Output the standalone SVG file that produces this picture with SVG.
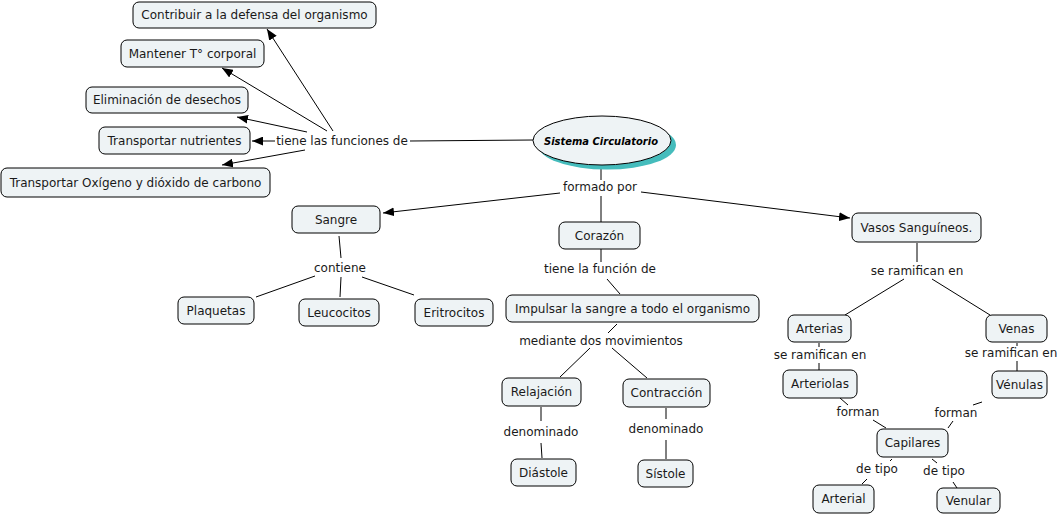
<svg xmlns="http://www.w3.org/2000/svg" width="1061" height="515" viewBox="0 0 1061 515">
<defs>
<marker id="ah" viewBox="0 0 10 8" refX="10" refY="4" markerWidth="11" markerHeight="9" markerUnits="userSpaceOnUse" orient="auto">
<path d="M0,0 L10,4 L0,8 Z" fill="#000"/>
</marker>
</defs>
<style>
.n rect{fill:#eef3f5;stroke:#000;stroke-width:1}
.t{font-family:"DejaVu Sans",Verdana,sans-serif;font-size:12px;fill:#1a1a1a;text-anchor:middle;dominant-baseline:central}
.l{stroke:#000;stroke-width:1;fill:none}
.a{stroke:#000;stroke-width:1;fill:none;marker-end:url(#ah)}
</style>
<rect width="1061" height="515" fill="#fff"/>
<g id="connectors">
<line class="l" x1="410" y1="141" x2="533" y2="140"/>
<line class="a" x1="333" y1="131" x2="267" y2="29"/>
<line class="a" x1="327" y1="131" x2="222" y2="68"/>
<line class="a" x1="307" y1="132" x2="237" y2="117"/>
<line class="a" x1="275" y1="141" x2="252" y2="141"/>
<line class="a" x1="305" y1="150" x2="222" y2="165"/>
<line class="l" x1="601" y1="165" x2="601" y2="180"/>
<line class="l" x1="601" y1="196" x2="601" y2="222"/>
<line class="a" x1="560" y1="193" x2="383" y2="213"/>
<line class="a" x1="641" y1="192" x2="850" y2="218"/>
<line class="l" x1="339" y1="236" x2="341" y2="258"/>
<line class="l" x1="315" y1="276" x2="256" y2="297"/>
<line class="l" x1="341" y1="277" x2="340" y2="297"/>
<line class="l" x1="362" y1="277" x2="414" y2="295"/>
<line class="l" x1="601" y1="249" x2="601" y2="262"/>
<line class="l" x1="607" y1="279" x2="620" y2="294"/>
<line class="l" x1="617" y1="324" x2="608" y2="333"/>
<line class="l" x1="590" y1="348" x2="560" y2="377"/>
<line class="l" x1="612" y1="348" x2="647" y2="378"/>
<line class="l" x1="541" y1="407" x2="541" y2="421"/>
<line class="l" x1="541" y1="443" x2="542" y2="458"/>
<line class="l" x1="666" y1="408" x2="666" y2="419"/>
<line class="l" x1="666" y1="440" x2="666" y2="459"/>
<line class="l" x1="917" y1="243" x2="917" y2="262"/>
<line class="l" x1="904" y1="279" x2="845" y2="315"/>
<line class="l" x1="932" y1="279" x2="990" y2="315"/>
<line class="l" x1="819" y1="343" x2="819" y2="347"/>
<line class="l" x1="819" y1="363" x2="819" y2="370"/>
<line class="l" x1="1017" y1="343" x2="1017" y2="346"/>
<line class="l" x1="1017" y1="361" x2="1017" y2="371"/>
<line class="l" x1="840" y1="398" x2="848" y2="405"/>
<line class="l" x1="873" y1="420" x2="886" y2="428"/>
<line class="l" x1="982" y1="402" x2="973" y2="405"/>
<line class="l" x1="953" y1="421" x2="948" y2="428"/>
<line class="l" x1="892" y1="459" x2="890" y2="461"/>
<line class="l" x1="867" y1="479" x2="862" y2="484"/>
<line class="l" x1="932" y1="459" x2="937" y2="463"/>
<line class="l" x1="953" y1="482" x2="957" y2="488"/>
</g>
<g id="labels">
<text class="t" x="342" y="141">tiene las funciones de</text>
<text class="t" x="600" y="187">formado por</text>
<text class="t" x="340" y="268">contiene</text>
<text class="t" x="600" y="269">tiene la función de</text>
<text class="t" x="601" y="341">mediante dos movimientos</text>
<text class="t" x="541" y="432">denominado</text>
<text class="t" x="666" y="429">denominado</text>
<text class="t" x="917" y="271">se ramifican en</text>
<text class="t" x="820" y="355">se ramifican en</text>
<text class="t" x="1011" y="353">se ramifican en</text>
<text class="t" x="858" y="412">forman</text>
<text class="t" x="956" y="413">forman</text>
<text class="t" x="877" y="469">de tipo</text>
<text class="t" x="944" y="471">de tipo</text>
</g>
<g id="sistema">
<ellipse cx="607" cy="145" rx="69" ry="24.5" fill="#45bcbc"/>
<ellipse cx="602" cy="140.5" rx="69" ry="24.5" fill="#eef3f5" stroke="#000" stroke-width="1"/>
<text x="601" y="141" font-family="'DejaVu Sans',sans-serif" font-size="11" font-weight="bold" font-style="italic" fill="#000" text-anchor="middle" dominant-baseline="central" textLength="114" lengthAdjust="spacingAndGlyphs">Sistema Circulatorio</text>
</g>
<g id="contribuir" class="n"><rect x="133" y="2" width="243" height="26" rx="6"/><text class="t" x="254.5" y="15">Contribuir a la defensa del organismo</text></g>
<g id="mantener" class="n"><rect x="121" y="40" width="143" height="27" rx="6"/><text class="t" x="192.5" y="53.5">Mantener T° corporal</text></g>
<g id="eliminacion" class="n"><rect x="86" y="87" width="162" height="26" rx="6"/><text class="t" x="167" y="100">Eliminación de desechos</text></g>
<g id="nutrientes" class="n"><rect x="99" y="127" width="151" height="27" rx="6"/><text class="t" x="174.5" y="140.5">Transportar nutrientes</text></g>
<g id="oxigeno" class="n"><rect x="1" y="168" width="269" height="29" rx="6"/><text class="t" x="135.5" y="182.5">Transportar Oxígeno y dióxido de carbono</text></g>
<g id="sangre" class="n"><rect x="292" y="206" width="88" height="27" rx="6"/><text class="t" x="336" y="219.5">Sangre</text></g>
<g id="corazon" class="n"><rect x="559" y="222" width="81" height="27" rx="6"/><text class="t" x="599.5" y="235.5">Corazón</text></g>
<g id="vasos" class="n"><rect x="852" y="213" width="129" height="29" rx="6"/><text class="t" x="916.5" y="227.5">Vasos Sanguíneos.</text></g>
<g id="plaquetas" class="n"><rect x="178" y="297" width="76" height="27" rx="6"/><text class="t" x="216" y="310.5">Plaquetas</text></g>
<g id="leucocitos" class="n"><rect x="299" y="299" width="80" height="27" rx="6"/><text class="t" x="339" y="312.5">Leucocitos</text></g>
<g id="eritrocitos" class="n"><rect x="415" y="299" width="78" height="27" rx="6"/><text class="t" x="454" y="312.5">Eritrocitos</text></g>
<g id="impulsar" class="n"><rect x="506" y="295" width="253" height="27" rx="6"/><text class="t" x="632.5" y="308.5">Impulsar la sangre a todo el organismo</text></g>
<g id="relajacion" class="n"><rect x="502" y="378" width="79" height="28" rx="6"/><text class="t" x="541.5" y="392">Relajación</text></g>
<g id="contraccion" class="n"><rect x="623" y="379" width="87" height="28" rx="6"/><text class="t" x="666.5" y="393">Contracción</text></g>
<g id="diastole" class="n"><rect x="511" y="459" width="65" height="27" rx="6"/><text class="t" x="543.5" y="472.5">Diástole</text></g>
<g id="sistole" class="n"><rect x="638" y="460" width="55" height="27" rx="6"/><text class="t" x="665.5" y="473.5">Sístole</text></g>
<g id="arterias" class="n"><rect x="788" y="315" width="63" height="27" rx="6"/><text class="t" x="819.5" y="328.5">Arterias</text></g>
<g id="venas" class="n"><rect x="986" y="315" width="61" height="27" rx="6"/><text class="t" x="1016.5" y="328.5">Venas</text></g>
<g id="arteriolas" class="n"><rect x="783" y="370" width="74" height="28" rx="6"/><text class="t" x="820" y="384">Arteriolas</text></g>
<g id="venulas" class="n"><rect x="992" y="371" width="55" height="27" rx="6"/><text class="t" x="1019.5" y="384.5">Vénulas</text></g>
<g id="capilares" class="n"><rect x="877" y="429" width="71" height="28" rx="6"/><text class="t" x="912.5" y="443">Capilares</text></g>
<g id="arterial" class="n"><rect x="813" y="485" width="61" height="28" rx="6"/><text class="t" x="843.5" y="499">Arterial</text></g>
<g id="venular" class="n"><rect x="937" y="488" width="63" height="25" rx="6"/><text class="t" x="968.5" y="500.5">Venular</text></g>
</svg>
